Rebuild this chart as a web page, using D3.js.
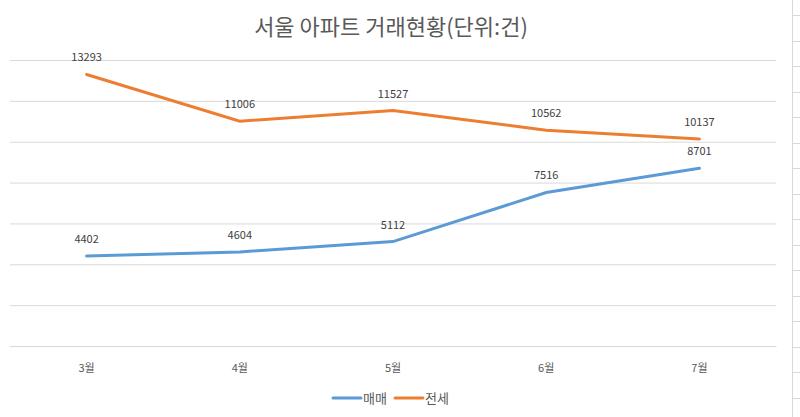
<!DOCTYPE html>
<html><head><meta charset="utf-8">
<script src="https://cdn.jsdelivr.net/npm/d3@7"></script>
<style>body{margin:0;background:#fff;}svg{display:block;}</style>
</head><body>
<svg id="c" width="800" height="417"></svg>
<script>
const categories = ["3월","4월","5월","6월","7월"];
const sales = [4402, 4604, 5112, 7516, 8701];      // 매매
const jeonse = [13293, 11006, 11527, 10562, 10137]; // 전세
const yTicks = [0,2000,4000,6000,8000,10000,12000,14000];
const seriesNames = ["매매","전세"];
const colors = ["#5B9BD5","#ED7D31"];

const svg = d3.select("#c");
const font = "'Noto Sans CJK KR','Noto Sans',sans-serif";
const mLeft = 10, mRight = 776, mTop = 60, mBottom = 346;

// spreadsheet cell edge at right
svg.append("line").attr("x1",792.5).attr("x2",792.5).attr("y1",0).attr("y2",417)
  .attr("stroke","#d9d9d9").attr("stroke-width",1);
svg.selectAll("line.row").data(d3.range(15,417,25.5)).enter().append("line")
  .attr("class","row")
  .attr("x1",792).attr("x2",800).attr("y1",d=>Math.round(d)+0.5).attr("y2",d=>Math.round(d)+0.5)
  .attr("stroke","#d9d9d9");

const x = d3.scaleBand().domain(categories).range([mLeft,mRight]);
const y = d3.scaleLinear().domain([0,14000]).range([mBottom,mTop]);

// gridlines
const grid = svg.append("g").attr("transform",`translate(${mLeft},0)`)
  .call(d3.axisLeft(y).tickValues(yTicks).tickSize(-(mRight-mLeft)).tickFormat(""));
grid.select(".domain").remove();
grid.selectAll("line").attr("stroke","#d9d9d9").attr("stroke-width",1);

// x axis
const xa = svg.append("g").attr("transform",`translate(0,${mBottom})`)
  .call(d3.axisBottom(x).tickSize(0).tickPadding(18));
xa.select(".domain").attr("stroke","#d9d9d9");
xa.selectAll("text").attr("font-family",font).attr("font-size",11).attr("fill","#595959");

// title
svg.append("text").attr("x",391).attr("y",35).attr("text-anchor","middle")
  .attr("font-family",font).attr("font-size",22).attr("fill","#595959")
  .text("서울 아파트 거래현황(단위:건)");

const line = d3.line().x((d,i)=>x(categories[i])+x.bandwidth()/2).y(d=>y(d));
[sales, jeonse].forEach((s,k)=>{
  svg.append("path").datum(s).attr("d",line).attr("fill","none")
    .attr("stroke",colors[k]).attr("stroke-width",3).attr("stroke-linecap","round");
  svg.selectAll(null).data(s).enter().append("text")
    .attr("x",(d,i)=>x(categories[i])+x.bandwidth()/2)
    .attr("y",d=>y(d)-13).attr("text-anchor","middle")
    .attr("font-family",font).attr("font-size",11).attr("fill","#404040")
    .text(d=>d);
});

// legend
const lg = svg.append("g");
const lx = [333, 395];
seriesNames.forEach((n,k)=>{
  lg.append("line").attr("x1",lx[k]).attr("x2",lx[k]+28).attr("y1",398).attr("y2",398)
    .attr("stroke",colors[k]).attr("stroke-width",3).attr("stroke-linecap","round");
  lg.append("text").attr("x",lx[k]+30).attr("y",403).attr("font-family",font)
    .attr("font-size",13).attr("fill","#595959").text(n);
});
</script>
</body></html>
